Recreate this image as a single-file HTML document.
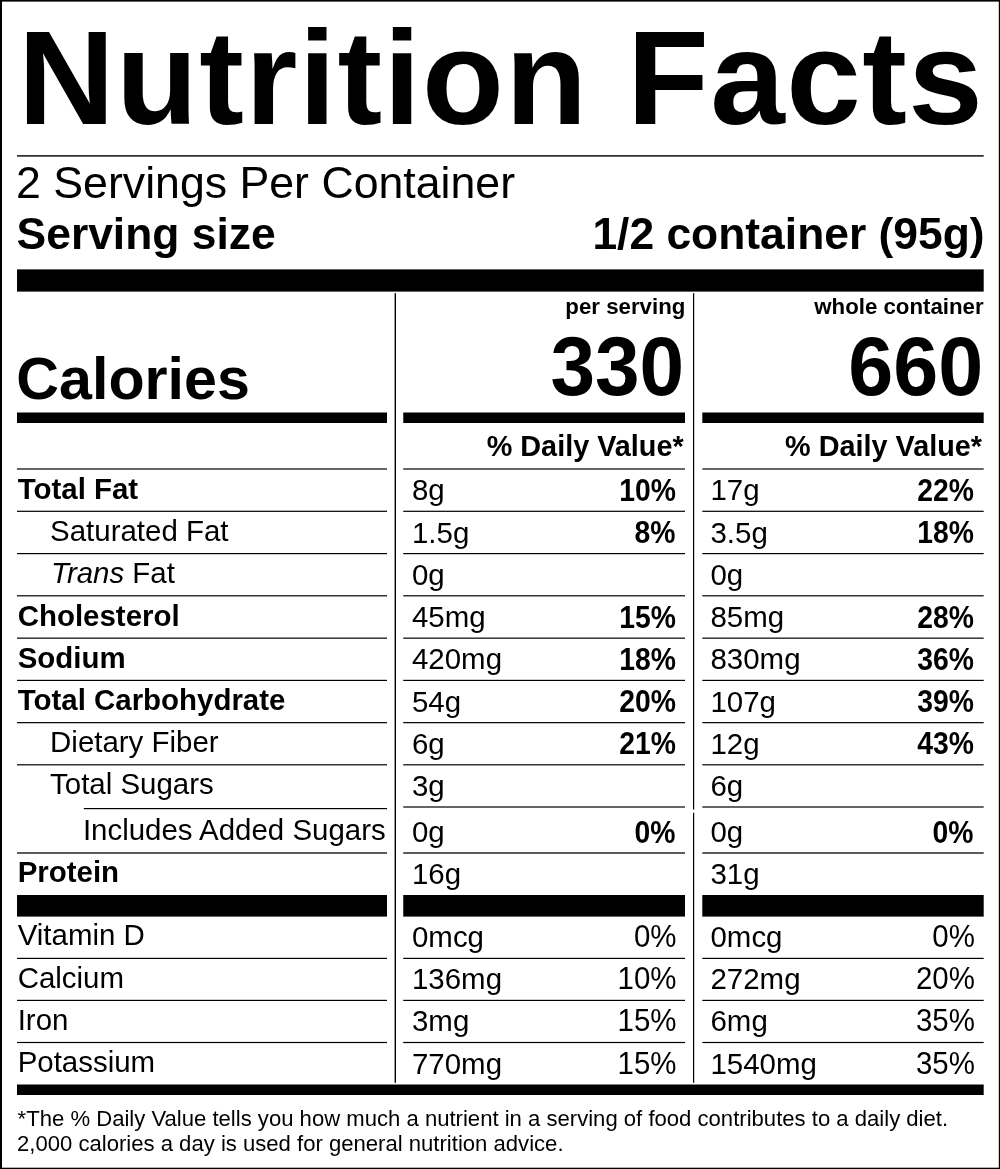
<!DOCTYPE html>
<html lang="en"><head><meta charset="utf-8"><title>Nutrition Facts</title>
<style>
html,body{margin:0;padding:0;background:#fff}
body{width:1000px;height:1169px;position:relative;overflow:hidden;will-change:transform;-webkit-font-smoothing:antialiased;font-family:"Liberation Sans",sans-serif;color:#000}
.g{position:absolute;left:0;top:0;display:block}
.t{position:absolute;white-space:nowrap;line-height:1;margin:0;padding:0}
i{font-style:italic}
</style></head><body>
<svg class="g" width="1000" height="1169" viewBox="0 0 1000 1169" fill="#000">
<rect x="0.00" y="0.00" width="1000.00" height="1.60"/>
<rect x="0.00" y="0.00" width="2.00" height="1169.00"/>
<rect x="998.80" y="0.00" width="1.20" height="1169.00"/>
<rect x="0.00" y="1167.70" width="1000.00" height="1.30"/>
<rect x="17.00" y="155.20" width="966.70" height="1.40"/>
<rect x="17.00" y="269.40" width="966.70" height="22.20"/>
<rect x="394.60" y="293.20" width="1.40" height="789.60"/>
<rect x="693.00" y="293.20" width="1.20" height="516.40"/>
<rect x="693.00" y="812.80" width="1.20" height="270.00"/>
<rect x="17.00" y="412.50" width="370.00" height="10.50"/>
<rect x="403.25" y="412.50" width="281.75" height="10.50"/>
<rect x="702.30" y="412.50" width="281.40" height="10.50"/>
<rect x="17.00" y="468.40" width="370.00" height="1.20"/>
<rect x="403.25" y="468.40" width="281.75" height="1.20"/>
<rect x="702.30" y="468.40" width="281.40" height="1.20"/>
<rect x="17.00" y="510.70" width="370.00" height="1.20"/>
<rect x="403.25" y="510.70" width="281.75" height="1.20"/>
<rect x="702.30" y="510.70" width="281.40" height="1.20"/>
<rect x="17.00" y="553.00" width="370.00" height="1.20"/>
<rect x="403.25" y="553.00" width="281.75" height="1.20"/>
<rect x="702.30" y="553.00" width="281.40" height="1.20"/>
<rect x="17.00" y="595.20" width="370.00" height="1.20"/>
<rect x="403.25" y="595.20" width="281.75" height="1.20"/>
<rect x="702.30" y="595.20" width="281.40" height="1.20"/>
<rect x="17.00" y="637.55" width="370.00" height="1.20"/>
<rect x="403.25" y="637.55" width="281.75" height="1.20"/>
<rect x="702.30" y="637.55" width="281.40" height="1.20"/>
<rect x="17.00" y="679.80" width="370.00" height="1.20"/>
<rect x="403.25" y="679.80" width="281.75" height="1.20"/>
<rect x="702.30" y="679.80" width="281.40" height="1.20"/>
<rect x="17.00" y="722.05" width="370.00" height="1.20"/>
<rect x="403.25" y="722.05" width="281.75" height="1.20"/>
<rect x="702.30" y="722.05" width="281.40" height="1.20"/>
<rect x="17.00" y="764.20" width="370.00" height="1.20"/>
<rect x="403.25" y="764.20" width="281.75" height="1.20"/>
<rect x="702.30" y="764.20" width="281.40" height="1.20"/>
<rect x="83.80" y="808.00" width="303.20" height="1.20"/>
<rect x="403.25" y="806.40" width="281.75" height="1.20"/>
<rect x="702.30" y="806.40" width="281.40" height="1.20"/>
<rect x="17.00" y="852.10" width="370.00" height="1.80" fill="#4a4a4a"/>
<rect x="403.25" y="852.10" width="281.75" height="1.80" fill="#4a4a4a"/>
<rect x="702.30" y="852.10" width="281.40" height="1.80" fill="#4a4a4a"/>
<rect x="17.00" y="895.00" width="370.00" height="21.60"/>
<rect x="403.25" y="895.00" width="281.75" height="21.60"/>
<rect x="702.30" y="895.00" width="281.40" height="21.60"/>
<rect x="17.00" y="957.80" width="370.00" height="1.20"/>
<rect x="403.25" y="957.80" width="281.75" height="1.20"/>
<rect x="702.30" y="957.80" width="281.40" height="1.20"/>
<rect x="17.00" y="999.80" width="370.00" height="1.20"/>
<rect x="403.25" y="999.80" width="281.75" height="1.20"/>
<rect x="702.30" y="999.80" width="281.40" height="1.20"/>
<rect x="17.00" y="1041.90" width="370.00" height="1.20"/>
<rect x="403.25" y="1041.90" width="281.75" height="1.20"/>
<rect x="702.30" y="1041.90" width="281.40" height="1.20"/>
<rect x="17.00" y="1084.50" width="966.70" height="10.50"/>
</svg>
<div class="t" style="top:10.97px;font-size:134px;font-weight:bold;letter-spacing:1.38px;left:17.90px;">Nutrition Facts</div>
<div class="t" style="top:160.80px;font-size:44.66px;left:16.10px;">2 Servings Per Container</div>
<div class="t" style="top:211.62px;font-size:44.4px;font-weight:bold;left:16.60px;">Serving size</div>
<div class="t" style="top:211.62px;font-size:44.4px;font-weight:bold;right:15.40px;">1/2 container (95g)</div>
<div class="t" style="top:348.89px;font-size:59.2px;font-weight:bold;left:16.30px;">Calories</div>
<div class="t" style="top:295.67px;font-size:22.25px;font-weight:bold;right:314.70px;">per serving</div>
<div class="t" style="top:295.67px;font-size:22.25px;font-weight:bold;right:16.40px;">whole container</div>
<div class="t" style="top:326.83px;font-size:81px;font-weight:bold;right:315.70px;transform:scale(0.989,1.035);transform-origin:right 68.57px;">330</div>
<div class="t" style="top:326.83px;font-size:81px;font-weight:bold;right:17.10px;transform:scale(0.998,1.035);transform-origin:right 68.57px;">660</div>
<div class="t" style="top:432.02px;font-size:28.8px;font-weight:bold;right:316.40px;">% Daily Value*</div>
<div class="t" style="top:432.02px;font-size:28.8px;font-weight:bold;right:18.00px;">% Daily Value*</div>
<div class="t" style="top:474.07px;font-size:29.45px;font-weight:bold;left:17.70px;">Total Fat</div>
<div class="t" style="top:475.47px;font-size:29.45px;left:412.00px;">8g</div>
<div class="t" style="top:475.47px;font-size:29.45px;left:710.50px;">17g</div>
<div class="t" style="top:476.07px;font-size:29.45px;font-weight:bold;right:324.30px;transform:scale(0.962,1.035);transform-origin:right 24.93px;">10%</div>
<div class="t" style="top:476.07px;font-size:29.45px;font-weight:bold;right:26.00px;transform:scale(0.962,1.035);transform-origin:right 24.93px;">22%</div>
<div class="t" style="top:516.27px;font-size:29.45px;left:50.10px;">Saturated Fat</div>
<div class="t" style="top:517.67px;font-size:29.45px;left:412.00px;">1.5g</div>
<div class="t" style="top:517.67px;font-size:29.45px;left:710.50px;">3.5g</div>
<div class="t" style="top:518.27px;font-size:29.45px;font-weight:bold;right:324.30px;transform:scale(0.962,1.035);transform-origin:right 24.93px;">8%</div>
<div class="t" style="top:518.27px;font-size:29.45px;font-weight:bold;right:26.00px;transform:scale(0.962,1.035);transform-origin:right 24.93px;">18%</div>
<div class="t" style="top:558.47px;font-size:29.45px;left:51.10px;"><i>Trans</i> Fat</div>
<div class="t" style="top:559.87px;font-size:29.45px;left:412.00px;">0g</div>
<div class="t" style="top:559.87px;font-size:29.45px;left:710.50px;">0g</div>
<div class="t" style="top:600.67px;font-size:29.45px;font-weight:bold;left:17.70px;">Cholesterol</div>
<div class="t" style="top:602.07px;font-size:29.45px;left:412.00px;">45mg</div>
<div class="t" style="top:602.07px;font-size:29.45px;left:710.50px;">85mg</div>
<div class="t" style="top:602.67px;font-size:29.45px;font-weight:bold;right:324.30px;transform:scale(0.962,1.035);transform-origin:right 24.93px;">15%</div>
<div class="t" style="top:602.67px;font-size:29.45px;font-weight:bold;right:26.00px;transform:scale(0.962,1.035);transform-origin:right 24.93px;">28%</div>
<div class="t" style="top:642.97px;font-size:29.45px;font-weight:bold;left:17.70px;">Sodium</div>
<div class="t" style="top:644.37px;font-size:29.45px;left:412.00px;">420mg</div>
<div class="t" style="top:644.37px;font-size:29.45px;left:710.50px;">830mg</div>
<div class="t" style="top:644.97px;font-size:29.45px;font-weight:bold;right:324.30px;transform:scale(0.962,1.035);transform-origin:right 24.93px;">18%</div>
<div class="t" style="top:644.97px;font-size:29.45px;font-weight:bold;right:26.00px;transform:scale(0.962,1.035);transform-origin:right 24.93px;">36%</div>
<div class="t" style="top:685.27px;font-size:29.45px;font-weight:bold;left:17.70px;">Total Carbohydrate</div>
<div class="t" style="top:686.67px;font-size:29.45px;left:412.00px;">54g</div>
<div class="t" style="top:686.67px;font-size:29.45px;left:710.50px;">107g</div>
<div class="t" style="top:687.27px;font-size:29.45px;font-weight:bold;right:324.30px;transform:scale(0.962,1.035);transform-origin:right 24.93px;">20%</div>
<div class="t" style="top:687.27px;font-size:29.45px;font-weight:bold;right:26.00px;transform:scale(0.962,1.035);transform-origin:right 24.93px;">39%</div>
<div class="t" style="top:727.37px;font-size:29.45px;left:50.10px;">Dietary Fiber</div>
<div class="t" style="top:728.77px;font-size:29.45px;left:412.00px;">6g</div>
<div class="t" style="top:728.77px;font-size:29.45px;left:710.50px;">12g</div>
<div class="t" style="top:729.37px;font-size:29.45px;font-weight:bold;right:324.30px;transform:scale(0.962,1.035);transform-origin:right 24.93px;">21%</div>
<div class="t" style="top:729.37px;font-size:29.45px;font-weight:bold;right:26.00px;transform:scale(0.962,1.035);transform-origin:right 24.93px;">43%</div>
<div class="t" style="top:769.27px;font-size:29.45px;left:50.10px;">Total Sugars</div>
<div class="t" style="top:770.67px;font-size:29.45px;left:412.00px;">3g</div>
<div class="t" style="top:770.67px;font-size:29.45px;left:710.50px;">6g</div>
<div class="t" style="top:814.77px;font-size:29.45px;left:82.90px;">Includes Added Sugars</div>
<div class="t" style="top:817.07px;font-size:29.45px;left:412.00px;">0g</div>
<div class="t" style="top:817.07px;font-size:29.45px;left:710.50px;">0g</div>
<div class="t" style="top:817.67px;font-size:29.45px;font-weight:bold;right:324.30px;transform:scale(0.962,1.035);transform-origin:right 24.93px;">0%</div>
<div class="t" style="top:817.67px;font-size:29.45px;font-weight:bold;right:26.00px;transform:scale(0.962,1.035);transform-origin:right 24.93px;">0%</div>
<div class="t" style="top:857.37px;font-size:29.45px;font-weight:bold;left:17.70px;">Protein</div>
<div class="t" style="top:859.37px;font-size:29.45px;left:412.00px;">16g</div>
<div class="t" style="top:859.37px;font-size:29.45px;left:710.50px;">31g</div>
<div class="t" style="top:920.47px;font-size:29.45px;left:17.70px;">Vitamin D</div>
<div class="t" style="top:922.07px;font-size:29.45px;left:412.00px;">0mcg</div>
<div class="t" style="top:922.07px;font-size:29.45px;left:710.50px;">0mcg</div>
<div class="t" style="top:922.07px;font-size:29.45px;right:323.50px;transform:scale(1,1.035);transform-origin:right 24.93px;">0%</div>
<div class="t" style="top:922.07px;font-size:29.45px;right:25.20px;transform:scale(1,1.035);transform-origin:right 24.93px;">0%</div>
<div class="t" style="top:962.67px;font-size:29.45px;left:17.70px;">Calcium</div>
<div class="t" style="top:964.27px;font-size:29.45px;left:412.00px;">136mg</div>
<div class="t" style="top:964.27px;font-size:29.45px;left:710.50px;">272mg</div>
<div class="t" style="top:964.27px;font-size:29.45px;right:323.50px;transform:scale(1,1.035);transform-origin:right 24.93px;">10%</div>
<div class="t" style="top:964.27px;font-size:29.45px;right:25.20px;transform:scale(1,1.035);transform-origin:right 24.93px;">20%</div>
<div class="t" style="top:1004.77px;font-size:29.45px;left:17.70px;">Iron</div>
<div class="t" style="top:1006.37px;font-size:29.45px;left:412.00px;">3mg</div>
<div class="t" style="top:1006.37px;font-size:29.45px;left:710.50px;">6mg</div>
<div class="t" style="top:1006.37px;font-size:29.45px;right:323.50px;transform:scale(1,1.035);transform-origin:right 24.93px;">15%</div>
<div class="t" style="top:1006.37px;font-size:29.45px;right:25.20px;transform:scale(1,1.035);transform-origin:right 24.93px;">35%</div>
<div class="t" style="top:1047.07px;font-size:29.45px;left:17.70px;">Potassium</div>
<div class="t" style="top:1049.07px;font-size:29.45px;left:412.00px;">770mg</div>
<div class="t" style="top:1049.07px;font-size:29.45px;left:710.50px;">1540mg</div>
<div class="t" style="top:1049.07px;font-size:29.45px;right:323.50px;transform:scale(1,1.035);transform-origin:right 24.93px;">15%</div>
<div class="t" style="top:1049.07px;font-size:29.45px;right:25.20px;transform:scale(1,1.035);transform-origin:right 24.93px;">35%</div>
<div class="t" style="top:1107.54px;font-size:22.1px;left:17.60px;">*The % Daily Value tells you how much a nutrient in a serving of food contributes to a daily diet.</div>
<div class="t" style="top:1132.54px;font-size:22.1px;left:17.00px;">2,000 calories a day is used for general nutrition advice.</div>
</body></html>
